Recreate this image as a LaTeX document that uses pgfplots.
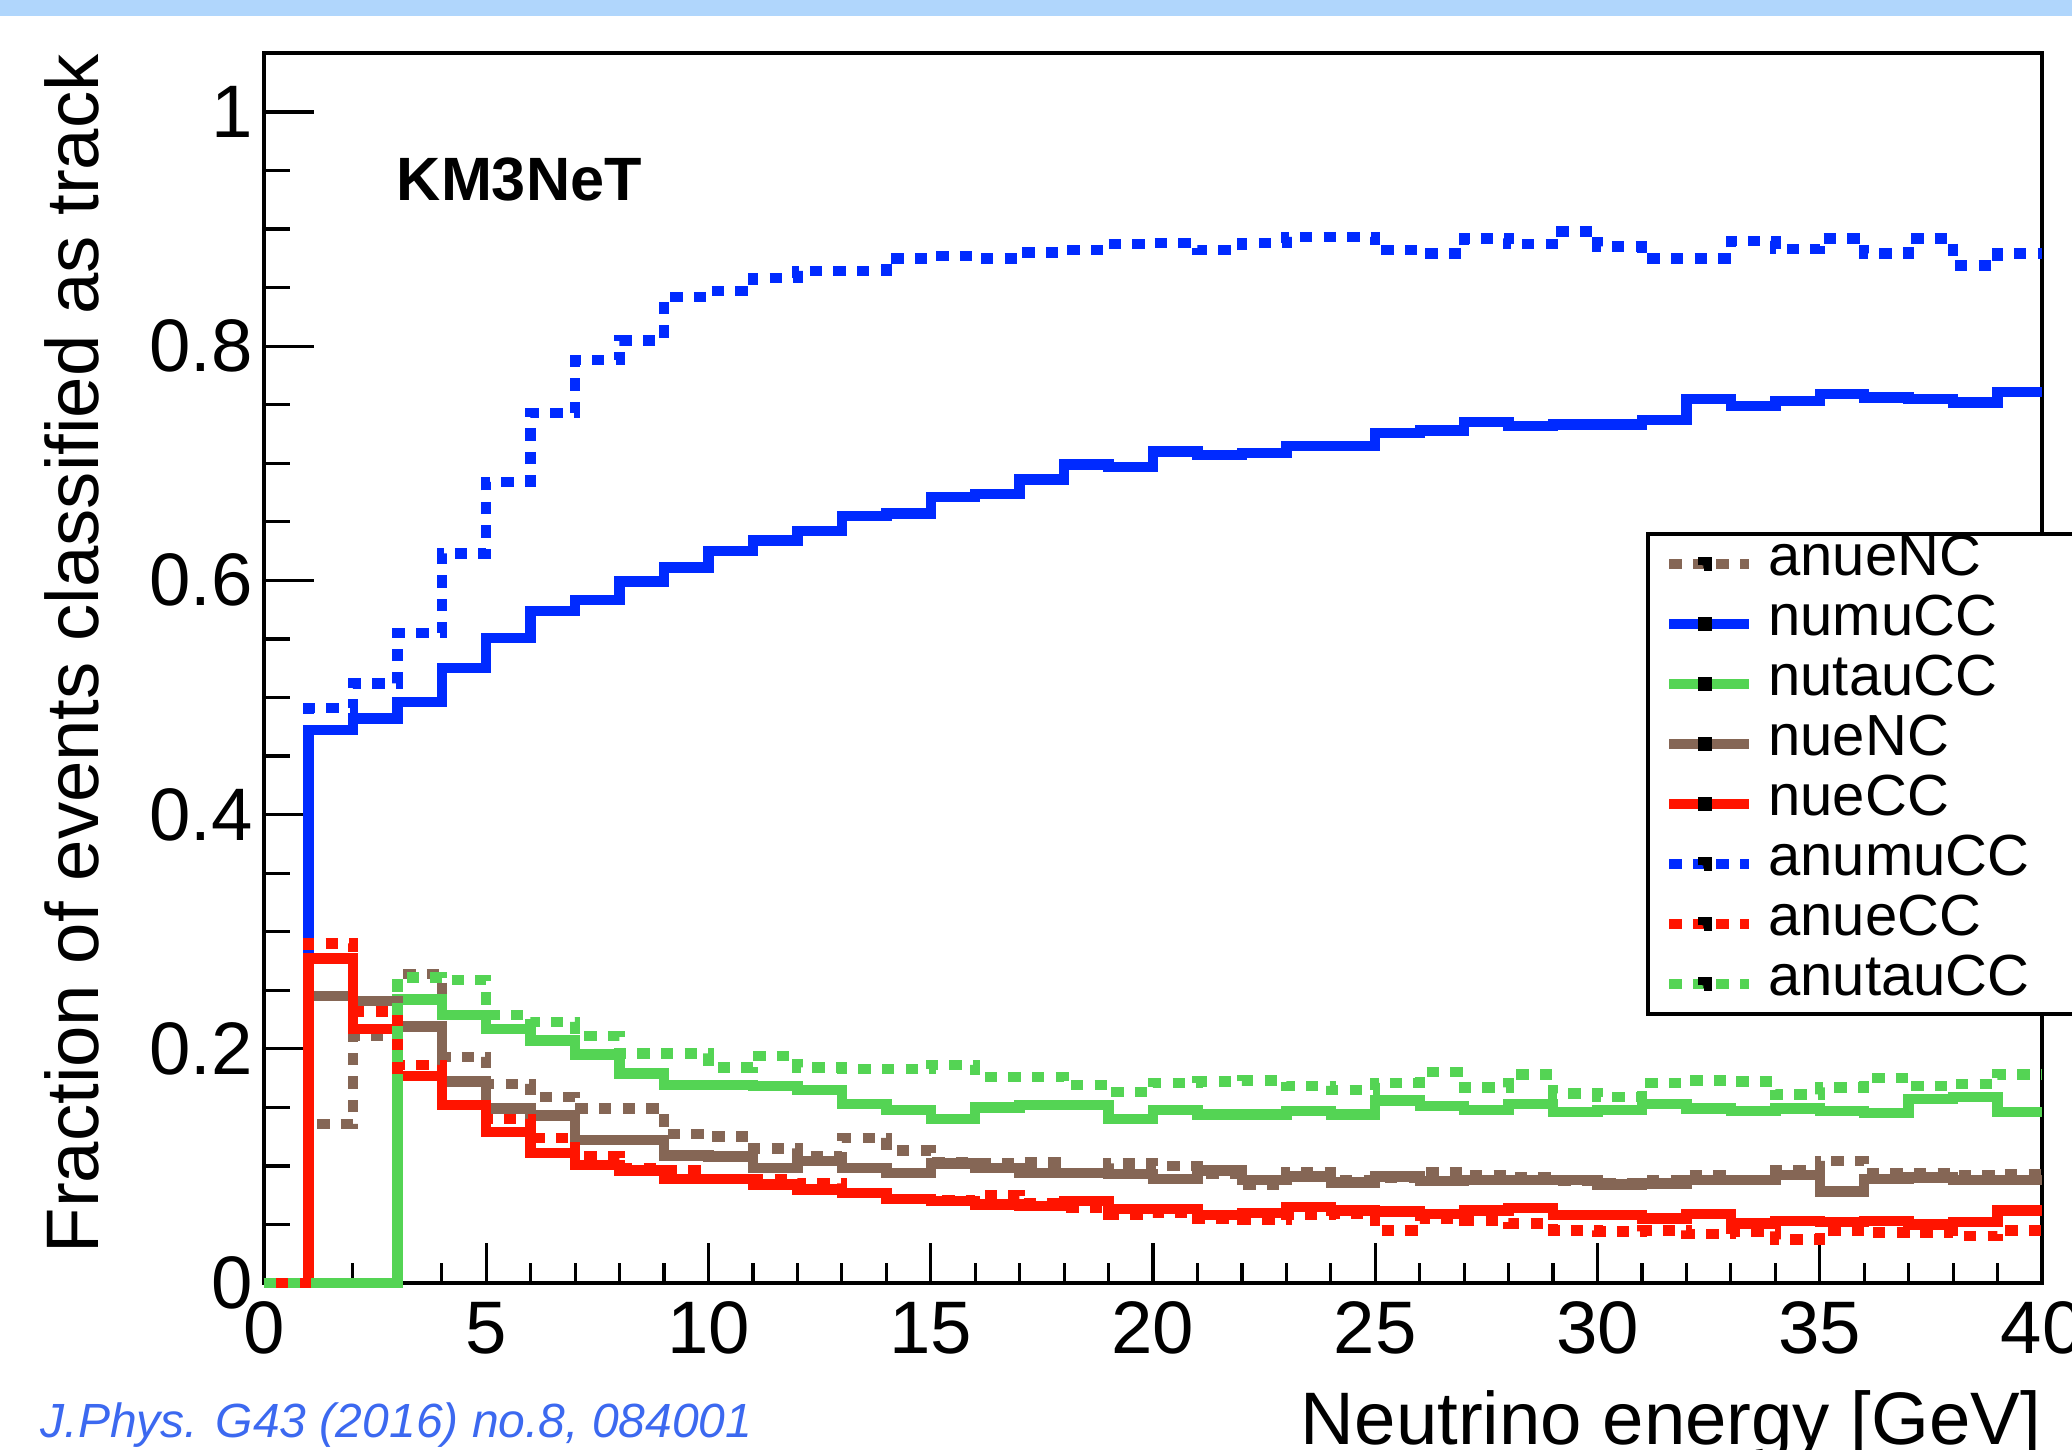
\documentclass[border=0pt]{standalone}
\usepackage{pgfplots}
\pgfplotsset{compat=1.18}
\usepackage{pgfplotstable}
\usepackage{fontspec}
\setmainfont{Liberation Sans}
\definecolor{rblue}{RGB}{0,42,255}
\definecolor{rgreen}{RGB}{84,212,84}
\definecolor{rbrown}{RGB}{133,102,85}
\definecolor{rred}{RGB}{255,20,0}
\definecolor{citeblue}{RGB}{60,105,240}
\definecolor{topbar}{RGB}{176,214,252}

\pgfplotstableread{
x numu anumu nutau anutau nueNC anueNC nueCC anueCC
0 0 0 0 0 0 0 0 0
1 .472 .491 0 0 .245 .136 .277 .290
2 .482 .512 0 0 .241 .211 .217 .232
3 .496 .555 .242 .261 .219 .264 .177 .186
4 .525 .623 .229 .259 .172 .193 .152 .152
5 .551 .684 .217 .229 .149 .170 .129 .140
6 .574 .743 .207 .223 .143 .159 .111 .124
7 .583 .788 .195 .211 .122 .149 .101 .108
8 .599 .805 .179 .196 .122 .149 .096 .098
9 .611 .842 .169 .196 .109 .127 .089 .096
10 .625 .847 .169 .184 .108 .125 .089 .089
11 .634 .858 .168 .194 .098 .115 .084 .089
12 .642 .864 .165 .184 .104 .108 .080 .085
13 .655 .864 .153 .183 .098 .124 .077 .077
14 .657 .875 .148 .183 .094 .113 .072 .072
15 .671 .877 .140 .186 .102 .103 .070 .071
16 .674 .875 .150 .176 .098 .102 .067 .075
17 .686 .880 .152 .176 .094 .103 .066 .068
18 .699 .882 .152 .169 .094 .094 .070 .064
19 .697 .887 .140 .163 .093 .102 .063 .058
20 .710 .888 .148 .171 .089 .100 .063 .060
21 .707 .882 .144 .172 .096 .093 .058 .055
22 .709 .888 .144 .173 .088 .084 .060 .054
23 .715 .893 .147 .168 .091 .095 .065 .058
24 .715 .893 .144 .165 .086 .088 .062 .059
25 .726 .882 .156 .171 .091 .090 .061 .045
26 .728 .879 .151 .180 .087 .095 .059 .055
27 .735 .892 .148 .167 .088 .092 .062 .053
28 .732 .887 .153 .178 .088 .090 .064 .051
29 .733 .898 .146 .162 .088 .087 .058 .045
30 .733 .885 .148 .159 .084 .085 .058 .044
31 .737 .875 .153 .171 .085 .088 .055 .045
32 .755 .875 .149 .173 .088 .092 .059 .042
33 .749 .890 .147 .172 .088 .088 .051 .044
34 .753 .883 .149 .161 .092 .096 .053 .037
35 .759 .892 .147 .167 .078 .104 .052 .045
36 .756 .879 .145 .175 .089 .094 .053 .043
37 .755 .892 .157 .168 .090 .094 .050 .043
38 .752 .869 .159 .170 .088 .092 .052 .040
39 .761 .879 .146 .178 .088 .093 .062 .045
40 .761 .879 .146 .178 .088 .093 .062 .045
}\data

\tikzset{
  hsolid/.style={const plot, line width=2.6pt},
  hdash/.style={const plot, line width=2.6pt, dash pattern=on 3.1pt off 2.8pt},
}

\begin{document}
\begin{tikzpicture}
\fill[topbar] (-70pt,316.75pt) rectangle (460pt,325pt);
\begin{axis}[
  at={(0,0)}, anchor=south west,
  scale only axis, width=444.5pt, height=307.4pt,
  xmin=0, xmax=40, ymin=0, ymax=1.05,
  xtick={0,5,10,15,20,25,30,35,40},
  ytick={0,0.2,0.4,0.6,0.8,1},
  minor x tick num=4, minor y tick num=3,
  tick pos=left, tick align=inside,
  axis line style={line width=1pt},
  every tick/.style={black, line width=0.8pt},
  major tick length=11pt, minor tick length=5.5pt,
  xtick style={/pgfplots/major tick length=10pt, /pgfplots/minor tick length=5pt},
  ytick style={/pgfplots/major tick length=12.5pt, /pgfplots/minor tick length=6.5pt},
  /pgf/number format/assume math mode=true,
  ticklabel style={font=\fontsize{18.6}{22}\selectfont},
  xticklabel style={anchor=base, yshift=-17.5pt, inner sep=0pt},
  yticklabel style={anchor=east, xshift=-2.6pt, inner sep=0pt},
  xlabel={Neutrino energy [GeV]},
  xlabel style={at={(rel axis cs:1,-0.131)}, anchor=base east, inner sep=0pt, font=\fontsize{18.6}{22}\selectfont},
  ylabel={Fraction of events classified as track},
  ylabel style={at={(rel axis cs:-0.0928,1)}, anchor=base east, inner sep=0pt, font=\fontsize{18.6}{22}\selectfont},
  clip=false,
  legend cell align=left,
  legend style={at={(0.7773,0.6108)}, anchor=north west, draw=black, line width=1pt,
    font=\fontsize{14.5}{15}\selectfont, inner xsep=4pt, inner ysep=0pt,
    row sep=0pt, column sep=3.5pt,
    nodes={inner sep=0pt, text height=10.5pt, text depth=4.5pt}},
  legend image code/.code={
    \draw[#1] (0pt,0pt) -- (20pt,0pt);
    \fill[black] (8.6pt,-0.35pt) rectangle (9.4pt,0.35pt);
  },
]
\addplot[hdash, color=rbrown] table[x=x, y=anueNC] {\data};
\addlegendentry{\makebox[95pt][l]{anueNC}}
\addplot[hsolid, color=rblue] table[x=x, y=numu] {\data};
\addlegendentry{\makebox[95pt][l]{numuCC}}
\addplot[hsolid, color=rgreen] table[x=x, y=nutau] {\data};
\addlegendentry{\makebox[95pt][l]{nutauCC}}
\addplot[hsolid, color=rbrown] table[x=x, y=nueNC] {\data};
\addlegendentry{\makebox[95pt][l]{nueNC}}
\addplot[hsolid, color=rred] table[x=x, y=nueCC] {\data};
\addlegendentry{\makebox[95pt][l]{nueCC}}
\addplot[hdash, color=rblue] table[x=x, y=anumu] {\data};
\addlegendentry{\makebox[95pt][l]{anumuCC}}
\addplot[hdash, color=rred] table[x=x, y=anueCC] {\data};
\addlegendentry{\makebox[95pt][l]{anueCC}}
\addplot[hdash, color=rgreen] table[x=x, y=anutau] {\data};
\addlegendentry{\makebox[95pt][l]{anutauCC}}

\node[anchor=base west, inner sep=0pt, font=\fontsize{15.3}{18}\selectfont\bfseries] at (axis cs:2.97,0.924) {KM3NeT};
\node[anchor=base west, inner sep=0pt, text=citeblue, font=\fontsize{12}{14}\selectfont\itshape] at (rel axis cs:-0.126,-0.1253) {J.Phys. G43 (2016) no.8, 084001};
\end{axis}
\pgfresetboundingbox
\path[use as bounding box] (-66pt,-41.5pt) rectangle (452pt,320.75pt);
\end{tikzpicture}
\end{document}
